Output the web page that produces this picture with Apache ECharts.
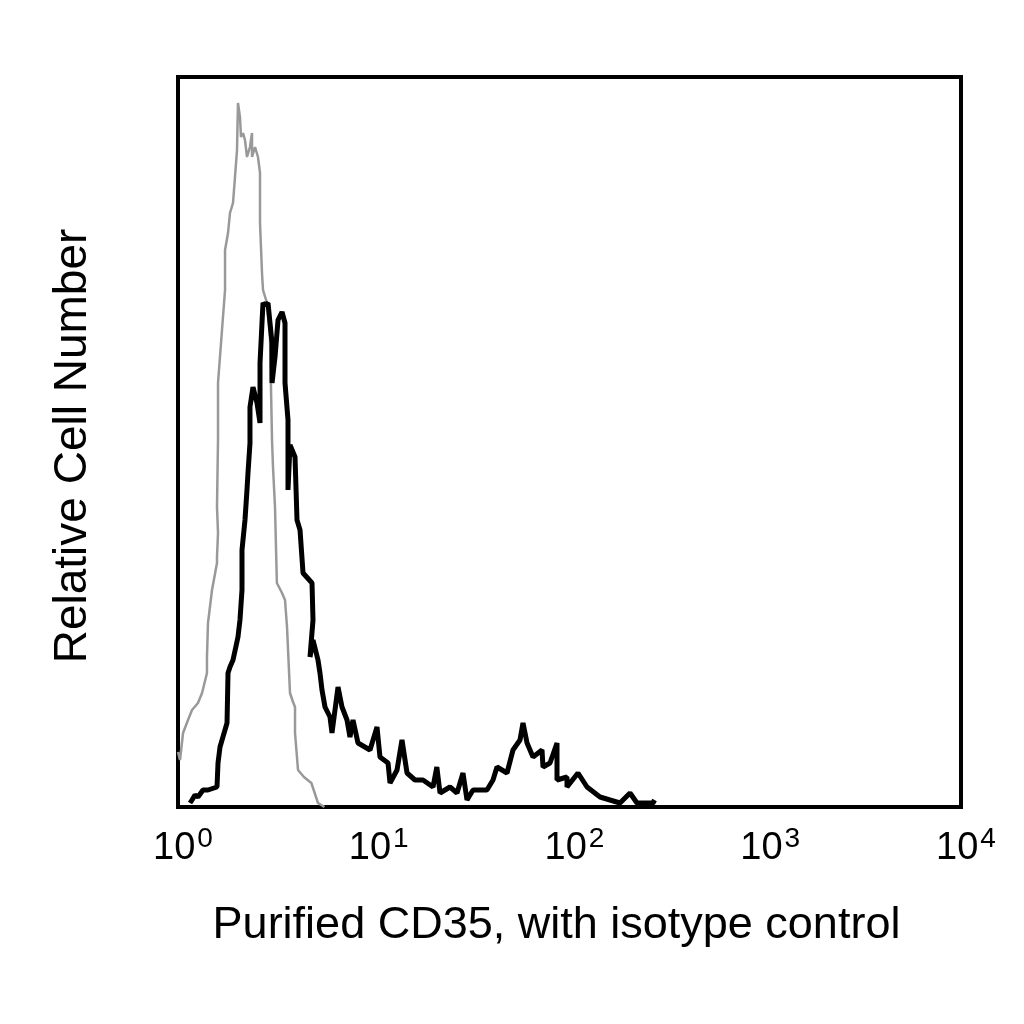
<!DOCTYPE html>
<html><head><meta charset="utf-8">
<script src="https://cdn.jsdelivr.net/npm/echarts@6/dist/echarts.min.js"></script>
<style>html,body{margin:0;padding:0;background:#fff}#c{width:1024px;height:1024px}</style>
</head><body><div id="c"></div>
<script>
// Fluorescence intensity (linear units, log axis) vs relative cell count
const tickExponents = [0, 1, 2, 3, 4];
const xTitle = 'Purified CD35, with isotype control';
const yTitle = 'Relative Cell Number';

const isotypeHist = [
 [1.00,55],[1.024,47],[1.061,74],[1.125,87],[1.179,97],[1.265,104],[1.327,114],[1.406,134],[1.406,150],
 [1.423,184],[1.492,217],[1.582,244],[1.582,250],[1.601,274],[1.582,300],[1.601,367],[1.601,424],
 [1.678,477],[1.739,517],[1.739,557],[1.801,574],[1.843,594],[1.910,604],[1.955,630],[2.002,657],
 [2.025,704],[2.073,690],[2.098,670],[2.148,674],[2.199,667],[2.251,650],[2.332,660],[2.388,674],
 [2.388,650],[2.474,660],[2.532,660],[2.562,650],[2.624,634],[2.624,584],[2.686,534],[2.718,517],
 [2.849,504],[2.951,470],[3.022,367],[3.057,340],[3.130,300],[3.20,224],[3.399,214],[3.521,207],
 [3.605,180],[3.734,114],[3.868,105],[3.961,100],[3.961,74],[4.103,37],[4.4,30],[4.8,24],[5.19,4],[5.6,0]
];

const cd35Hist = [
 [1.152,4],[1.179,7],[1.221,12],[1.265,10],[1.342,17],[1.423,17],[1.582,20],[1.601,44],[1.639,60],
 [1.678,60],[1.780,84],[1.801,134],[1.843,140],[1.910,147],[2.025,170],[2.073,187],[2.123,217],
 [2.123,257],[2.199,287],[2.251,317],[2.278,334],[2.332,364],[2.332,400],[2.416,420],[2.532,404],
 [2.624,384],[2.624,444],[2.686,484],[2.718,504],[2.783,502],[2.883,504],[2.951,484],[3.022,464],
 [3.022,424],[3.130,450],[3.243,487],[3.399,495],[3.521,484],[3.521,424],[3.647,387],[3.647,317],
 [3.734,362],[3.961,350],[4.055,287],[4.201,277],[4.352,234],[4.837,224],[4.894,187],[4.725,150],
 [4.894,167],[5.190,147],[5.313,134],[5.440,117],[5.636,100],[5.977,90],[6.119,74],[6.568,120],
 [6.884,100],[7.301,87],[7.562,70],[7.834,87],[8.308,64],[9.568,57],[10.39,80],[10.76,50],[11.83,44],
 [12.11,24],[13.15,37],[13.94,67],[14.79,34],[16.24,27],[17.85,27],[20.08,20],[21.0,40],[21.81,14],
 [24.52,20],[26.63,14],[28.57,34],[29.95,7],[32.14,17],[37.88,17],[40.66,27],[42.62,40],[47.95,34],
 [51.44,57],[55.86,67],[57.87,84],[60.68,64],[65.10,50],[72.37,57],[73.22,40],[79.51,44],[86.33,64],
 [86.33,27],[97.1,30],[97.1,20],[110.5,34],[122.9,20],[143.2,10],[161.0,7],[181.1,4],[203.8,14],
 [221.2,4],[267.1,4],[272,7]
];

const font = 'Liberation Sans, Arial, sans-serif';
const chart = echarts.init(document.getElementById('c'));
chart.setOption({
  animation: false,
  backgroundColor: '#fff',
  grid: {left: 178, right: 63, top: 77, bottom: 217, show: true, borderColor: '#000', borderWidth: 4, backgroundColor: 'transparent'},
  xAxis: {
    type: 'log', logBase: 10, min: 1, max: 10000, interval: 1,
    axisLine: {show: false}, axisTick: {show: false}, splitLine: {show: false}, minorTick: {show: false},
    axisLabel: {
      margin: 21, showMinLabel: true, showMaxLabel: true,
      fontSize: 38, fontFamily: font, color: '#000',
      formatter: function (v) {
        const e = tickExponents[Math.round(Math.log10(v))];
        return '{b|10}{s|' + e + '}';
      },
      rich: {
        b: {fontSize: 38, fontFamily: font, color: '#000', verticalAlign: 'bottom', lineHeight: 40, padding: [0, 2, 0, 10]},
        s: {fontSize: 28, fontFamily: font, color: '#000', verticalAlign: 'bottom', lineHeight: 28, padding: [0, 0, 15, 0]}
      }
    },
    name: xTitle, nameLocation: 'middle', nameGap: 96,
    nameTextStyle: {fontSize: 45, fontFamily: font, color: '#000', padding: [0, 26, 0, 0]}
  },
  yAxis: {
    type: 'value', min: 0, max: 730,
    axisLine: {show: false}, axisTick: {show: false}, axisLabel: {show: false}, splitLine: {show: false},
    name: yTitle, nameLocation: 'middle', nameGap: 82,
    nameTextStyle: {fontSize: 46, fontFamily: font, color: '#000', padding: [0, 8, 0, 0]}
  },
  series: [
    {type: 'line', data: isotypeHist, showSymbol: false, z: 2, lineStyle: {color: '#999', width: 2.5}},
    {type: 'line', data: cd35Hist, showSymbol: false, z: 3, lineStyle: {color: '#000', width: 5}}
  ]
});
</script>
</body></html>
